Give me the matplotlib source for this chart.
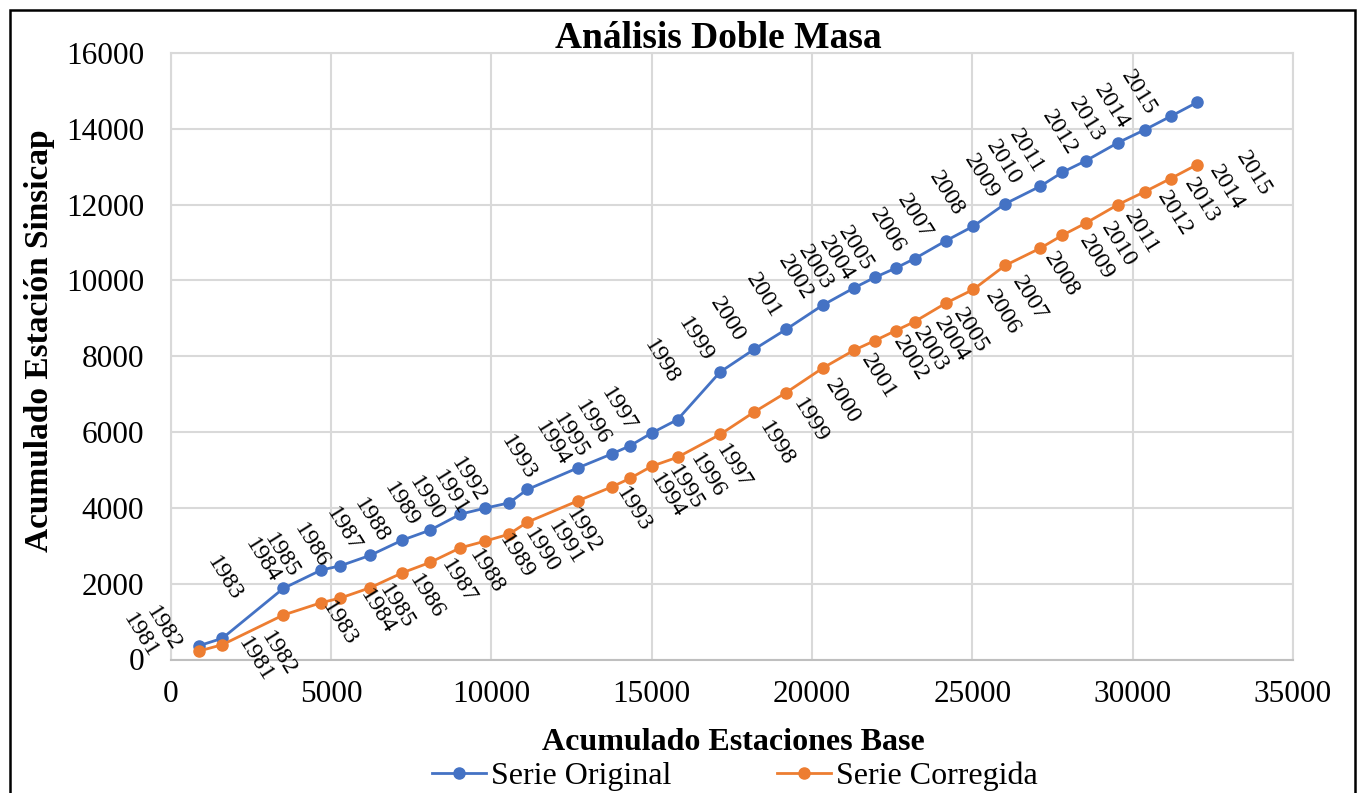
import matplotlib
matplotlib.use("Agg")
import matplotlib.pyplot as plt
from matplotlib.patches import Rectangle

plt.rcParams['font.family'] = ['Liberation Serif', 'DejaVu Serif']

# cumulative base stations (x) and Sinsicap station (y)
years = list(range(1981, 2016))
acum_base = [883, 1609, 3512, 4688, 5290, 6216, 7224, 8088, 9033, 9803,
             10552, 11122, 12694, 13755, 14316, 15003, 15807, 17133, 18193, 19191,
             20336, 21318, 21958, 22606, 23199, 24175, 25033, 26022, 27120, 27809,
             28533, 29546, 30388, 31184, 32010]
serie_original = [364, 559, 1876, 2358, 2472, 2746, 3149, 3412, 3834, 3992,
                  4132, 4485, 5054, 5423, 5634, 5976, 6329, 7584, 8182, 8709,
                  9349, 9807, 10079, 10324, 10574, 11046, 11431, 12021, 12485, 12854,
                  13154, 13636, 13979, 14329, 14698]
serie_corregida = [224, 390, 1173, 1497, 1621, 1892, 2287, 2561, 2946, 3122,
                   3307, 3623, 4184, 4553, 4775, 5099, 5336, 5937, 6527, 7041,
                   7689, 8163, 8411, 8674, 8912, 9402, 9763, 10395, 10851, 11193,
                   11510, 12002, 12345, 12688, 13056]

BLUE = '#4472C4'
ORANGE = '#ED7D31'

W, H = 1358, 793
fig = plt.figure(figsize=(W / 100, H / 100), dpi=100)
ax = fig.add_axes([170.7 / W, 1 - 659.5 / H, (1293 - 170.7) / W, (659.5 - 53) / H])

ax.plot(acum_base, serie_original, color=BLUE, lw=2, marker='o', ms=8,
        label='Serie Original', zorder=3)
ax.plot(acum_base, serie_corregida, color=ORANGE, lw=2, marker='o', ms=8,
        label='Serie Corregida', zorder=3)

# year labels: left of the blue points, right of the orange ones
for x, y, yr in zip(acum_base, serie_original, years):
    ax.annotate(str(yr), (x, y), xytext=(-59, 10), textcoords='offset pixels',
                ha='center', va='center', rotation=-58, fontsize=17.5, zorder=4)
for x, y, yr in zip(acum_base, serie_corregida, years):
    ax.annotate(str(yr), (x, y), xytext=(56, -9), textcoords='offset pixels',
                ha='center', va='center', rotation=-58, fontsize=17.5, zorder=4)

ax.set_xlim(0, 35000)
ax.set_ylim(0, 16000)
ax.set_xticks(range(0, 35001, 5000))
ax.set_yticks(range(0, 16001, 2000))
ax.tick_params(axis='both', length=0, labelsize=22.5)
ax.tick_params(axis='y', pad=19)
ax.tick_params(axis='x', pad=15)
ax.grid(True, color='#d9d9d9', lw=1.5)
ax.set_axisbelow(True)
for s in ax.spines.values():
    s.set_color('#d9d9d9')
    s.set_linewidth(1.5)
ax.spines['bottom'].set_color('#bfbfbf')

fig.text(718 / W, 1 - 38 / H, 'Análisis Doble Masa', ha='center', va='center',
         fontsize=27, fontweight='bold')
fig.text(733 / W, 1 - 742 / H, 'Acumulado Estaciones Base', ha='center', va='center',
         fontsize=23, fontweight='bold')
fig.text(40 / W, 1 - 341 / H, 'Acumulado Estación Sinsicap', ha='center', va='center',
         rotation=90, fontsize=24, fontweight='bold')

fig.legend(loc='center', bbox_to_anchor=(735 / W, 1 - 776 / H), ncol=2, frameon=False,
           fontsize=23, handlelength=1.7, handletextpad=0.15, columnspacing=3.3,
           borderpad=0)

# chart area frame
fig.patches.append(Rectangle((10 / W, -0.05), (1355 - 10) / W, 1.05 - 10 / H,
                             transform=fig.transFigure, fill=False,
                             edgecolor='black', lw=1.8))

fig.savefig('out.png', dpi=100)
